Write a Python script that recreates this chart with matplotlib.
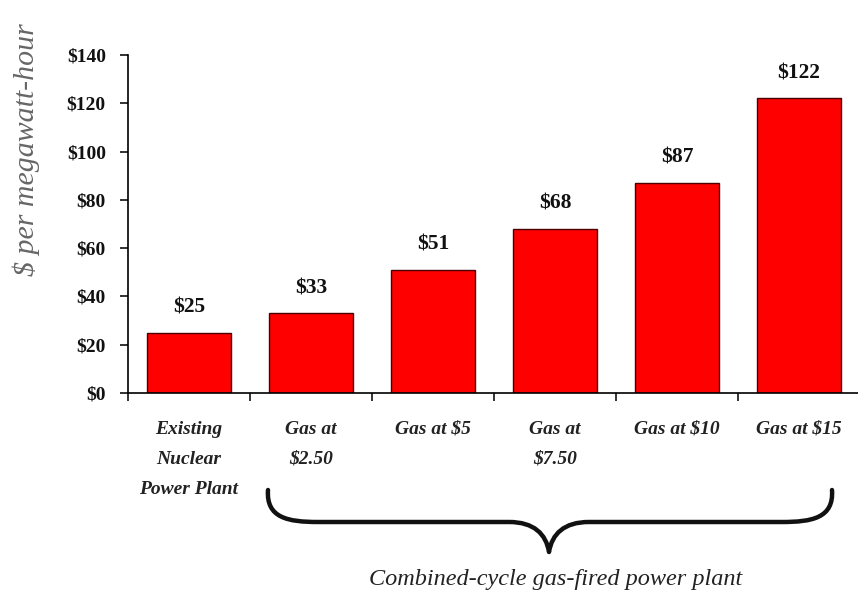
import matplotlib
matplotlib.use("Agg")
import matplotlib.pyplot as plt
from matplotlib.path import Path
from matplotlib.patches import PathPatch
import numpy as np

categories = ["Existing\nNuclear\nPower Plant", "Gas at\n$2.50", "Gas at $5", "Gas at\n$7.50", "Gas at $10", "Gas at $15"]
values = [25, 33, 51, 68, 87, 122]
value_labels = ["$25", "$33", "$51", "$68", "$87", "$122"]
yticks = [0, 20, 40, 60, 80, 100, 120, 140]
ytick_labels = ["$0", "$20", "$40", "$60", "$80", "$100", "$120", "$140"]

plt.rcParams['font.family'] = ['Liberation Serif', 'DejaVu Serif']

W, H = 858, 601
fig = plt.figure(figsize=(W/100, H/100), dpi=100)
left, right, bottom, top = 128/W, 860/W, 1-393/H, 1-55/H
ax = fig.add_axes([left, bottom, right-left, top-bottom])

x = np.arange(len(values))
ax.bar(x, values, width=0.69, color="#ff0000", edgecolor="#4a0000", linewidth=1.0, zorder=2)
for xi, v, lab in zip(x, values, value_labels):
    ax.annotate(lab, (xi, v), xytext=(0, 11), textcoords="offset points",
                ha="center", va="bottom", fontsize=15.5, fontweight="bold", color="#111111")

ax.set_xlim(-0.5, len(values)-0.5)
ax.set_ylim(0, 140)
ax.set_yticks(yticks)
ax.set_yticklabels(ytick_labels, fontsize=14, fontweight="bold")
ax.set_xticks(np.arange(-0.5, len(values), 1.0))
ax.set_xticklabels([])
ax.tick_params(axis="y", direction="out", length=6, width=1.2, pad=10, colors="#111111")
ax.tick_params(axis="x", direction="out", length=6, width=1.2, colors="#111111")
for s in ["top", "right"]:
    ax.spines[s].set_visible(False)
ax.spines["left"].set_linewidth(1.2)
ax.spines["bottom"].set_linewidth(1.2)

# Category labels
for xi, c in zip(x, categories):
    ax.text(xi, -11.5, c, ha="center", va="top", fontsize=14, fontweight="bold",
            fontstyle="italic", color="#222222", linespacing=2.0,
            transform=ax.transData)

ax.set_ylabel("$ per megawatt-hour", fontsize=21.5, fontstyle="italic", color="#666666")
ax.yaxis.set_label_coords(-0.12, 0.72)

# Brace in figure pixel coords
def fx(px): return px / W
def fy(py): return 1 - py / H
xl, xr, xm = 268, 832, 549
ytop, yline, ytip = 490, 522, 552
verts = [
    (xl, ytop), (xl - 2, yline - 4), (xl + 20, yline), (xl + 50, yline),
    (xm - 40, yline),
    (xm - 15, yline), (xm - 3, ytip - 18), (xm, ytip),
    (xm + 3, ytip - 18), (xm + 15, yline), (xm + 40, yline),
    (xr - 50, yline),
    (xr - 20, yline), (xr + 2, yline - 4), (xr, ytop),
]
codes = [Path.MOVETO, Path.CURVE4, Path.CURVE4, Path.CURVE4,
         Path.LINETO,
         Path.CURVE4, Path.CURVE4, Path.CURVE4,
         Path.CURVE4, Path.CURVE4, Path.CURVE4,
         Path.LINETO,
         Path.CURVE4, Path.CURVE4, Path.CURVE4]
verts = [(fx(a), fy(b)) for a, b in verts]
brace = PathPatch(Path(verts, codes), transform=fig.transFigure, fill=False,
                  lw=3.2, edgecolor="#111111", capstyle="round", joinstyle="round")
fig.patches.append(brace)

fig.text(fx(556), fy(580), "Combined-cycle gas-fired power plant", ha="center", va="center",
         fontsize=17.5, fontstyle="italic", color="#222222")

fig.savefig("out.png", dpi=100, facecolor="white")
